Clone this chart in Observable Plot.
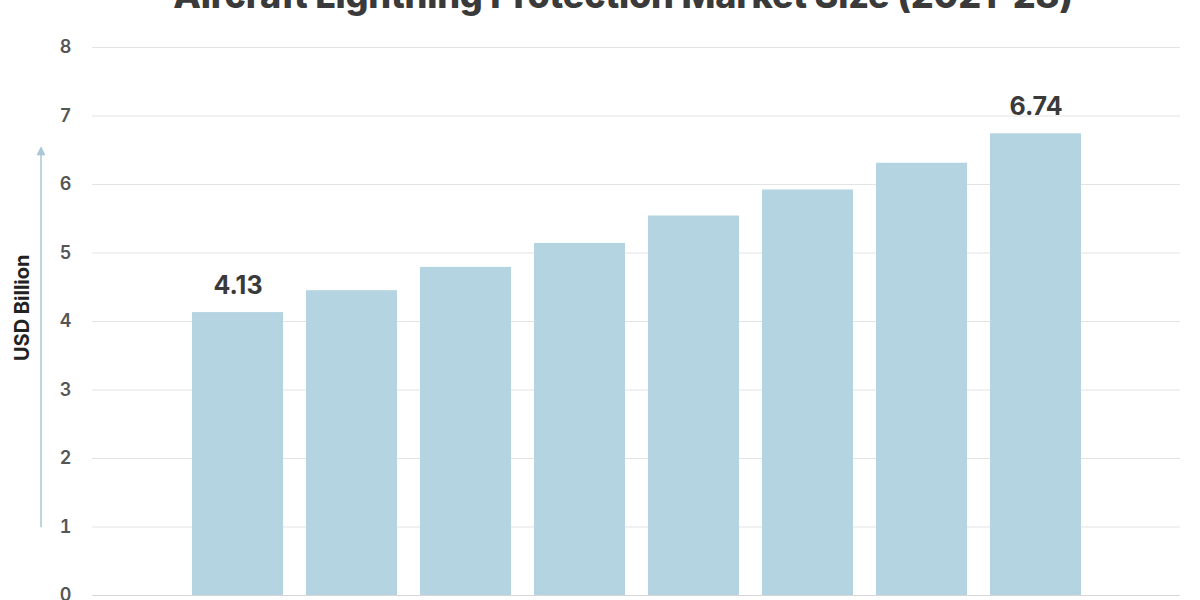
<!DOCTYPE html>
<html>
<head>
<meta charset="utf-8">
<script src="https://cdn.jsdelivr.net/npm/d3@7"></script>
<script src="https://cdn.jsdelivr.net/npm/@observablehq/plot@0.6"></script>
<style>
  html, body { margin: 0; padding: 0; background: #fff; overflow: hidden; }
  #wrap { position: relative; width: 1200px; height: 600px; overflow: hidden; font-family: Inter, "Open Sans", sans-serif; }
  #title { position: absolute; top: -27px; left: 0; width: 1246px; text-align: center; font-size: 36px; font-weight: 800; color: #3a3a3a; white-space: nowrap; letter-spacing: -0.2px; }
  #chart { position: absolute; top: 0; left: 0; }
</style>
</head>
<body>
<div id="wrap">
  <div id="title">Aircraft Lightning Protection Market Size (2021-28)</div>
  <div id="chart"></div>
</div>
<script>
const years = ["2021", "2022", "2023", "2024", "2025", "2026", "2027", "2028"];
const values = [4.13, 4.45, 4.79, 5.14, 5.54, 5.92, 6.31, 6.74];
const valueLabels = ["4.13", "", "", "", "", "", "", "6.74"];
const yTicks = [0, 1, 2, 3, 4, 5, 6, 7, 8];
const yLabel = "USD Billion";
const arrowRange = [0.99, 6.55];

const data = years.map((y, i) => ({year: y, value: values[i], label: valueLabels[i]}));

const plot = Plot.plot({
  width: 1200,
  height: 640,
  marginTop: 47,
  marginBottom: 45,
  marginLeft: 92,
  marginRight: 20,
  style: {fontFamily: "Inter, 'Open Sans', sans-serif", background: "transparent"},
  x: {domain: years, paddingInner: 0.205, paddingOuter: 0.85, label: null},
  y: {domain: [0, 8], label: null},
  marks: [
    Plot.gridY(yTicks, {stroke: "#e3e3e3", strokeOpacity: 1, strokeWidth: 1}),
    Plot.barY(data, {x: "year", y: "value", fill: "#b4d4e1"}),
    Plot.ruleY([0], {stroke: "#d6d6d6", strokeWidth: 1.2}),
    Plot.axisY(yTicks, {tickSize: 0, tickPadding: 21, fontSize: 18, fill: "#555", fontWeight: 600, tickFormat: d => String(d), label: null}),
    Plot.axisX({tickSize: 0, tickPadding: 8, fontSize: 16, fill: "#666", label: null}),
    Plot.text(data.filter(d => d.label), {x: "year", y: "value", text: "label", dy: -27, fontSize: 25, fontWeight: 700, fill: "#3a3a3a"}),
    Plot.text([yLabel], {frameAnchor: "left", y: [4.2], text: d => d, rotate: -90, dx: -70, textAnchor: "middle", fontSize: 20, fontWeight: 700, fill: "#222"})
  ]
});

document.getElementById("chart").appendChild(plot);

// y-axis arrow, positioned through the plot's own y scale
const ys = plot.scale("y");
const svg = d3.select(plot);
const y1 = ys.apply(arrowRange[0]);
const y2 = ys.apply(arrowRange[1]);
svg.append("line")
  .attr("x1", 41).attr("x2", 41)
  .attr("y1", y1).attr("y2", y2 + 8)
  .attr("stroke", "#a9c7d6").attr("stroke-width", 1.5);
svg.append("path")
  .attr("d", `M41,${y2} L36.5,${y2 + 9} L45.5,${y2 + 9} Z`)
  .attr("fill", "#a9c7d6");
</script>
</body>
</html>
